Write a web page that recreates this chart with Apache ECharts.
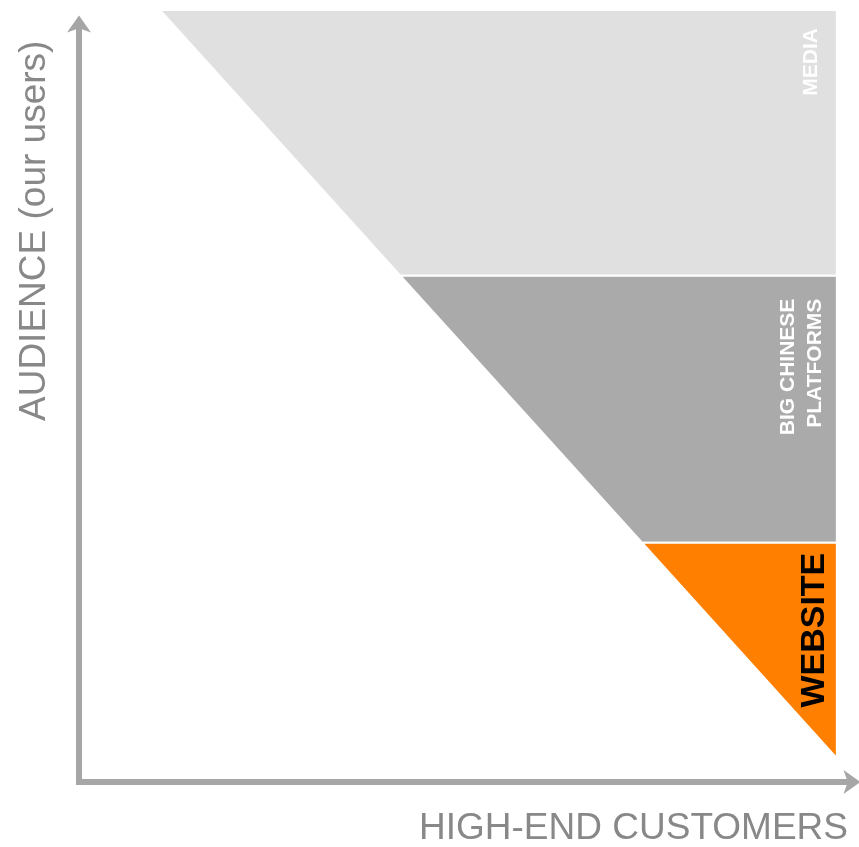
<!DOCTYPE html>
<html><head><meta charset="utf-8">
<script src="https://cdn.jsdelivr.net/npm/echarts@6/dist/echarts.min.js"></script>
<style>html,body{margin:0;padding:0;background:#fff}#c{width:859px;height:847px}</style>
</head><body><div id="c"></div>
<script>
// ---- data (x: high-end customers, y: audience) ----
const bandNames = ['MEDIA', 'BIG CHINESE\nPLATFORMS', 'WEBSITE'];
const bandTop = [100, 65.6, 31.0];
const bandBottom = [65.6, 31.0, 3.1];
const edgeTopX = [10.7, 42.4, 74.3];
const edgeBottomX = [42.4, 74.3, 100];
const bandRightX = [100, 100, 100];
const xTitle = 'HIGH-END CUSTOMERS';
const yTitle = 'AUDIENCE (our users)';

// ---- styles ----
const bandColors = ['#e0e0e0', '#aaaaaa', '#ff8000'];
const labelColors = ['#ffffff', '#ffffff', '#000000'];
const labelFont = ['bold 21px "Liberation Sans", Arial, sans-serif',
                   'bold 21px "Liberation Sans", Arial, sans-serif',
                   'bold 34px "Liberation Sans", Arial, sans-serif'];
const labelDx = [-26, -35, -22];   // px from band right edge
const labelDy = [18, 23, 10];      // px from band top
const axisGray = '#a6a6a6';
const FONT = '"Liberation Sans", Arial, sans-serif';

const chart = echarts.init(document.getElementById('c'), null, {renderer: 'canvas'});
const data = bandNames.map((n, i) => [i]);

chart.setOption({
  animation: false,
  grid: {left: 79, right: 7, top: 24, bottom: 65},
  xAxis: {
    type: 'value', min: 0, max: 102, 
    splitLine: {show: false}, axisTick: {show: false}, axisLabel: {show: false},
    axisLine: {show: true, symbol: ['none', 'arrow'], symbolSize: [18, 17], symbolOffset: [0, 8.5],
      lineStyle: {color: axisGray, width: 6, cap: 'square'}}
  },
  yAxis: {
    type: 'value', min: 0, max: 98.2,
    splitLine: {show: false}, axisTick: {show: false}, axisLabel: {show: false},
    axisLine: {show: true, symbol: ['none', 'arrow'], symbolSize: [18, 17], symbolOffset: [0, 8.5],
      lineStyle: {color: axisGray, width: 6, cap: 'square'}}
  },
  series: [{
    type: 'custom',
    clip: false,
    data: data,
    renderItem: function (params, api) {
      const i = api.value(0);
      const p1 = api.coord([edgeTopX[i], bandTop[i]]);
      const p2 = api.coord([bandRightX[i], bandTop[i]]);
      const p3 = api.coord([bandRightX[i], bandBottom[i]]);
      const p4 = api.coord([edgeBottomX[i], bandBottom[i]]);
      const isMulti = bandNames[i].indexOf('\n') >= 0;
      return {
        type: 'group',
        children: [{
          type: 'polygon',
          shape: {points: [p1, p2, p3, p4]},
          style: {fill: bandColors[i], stroke: '#ffffff', lineWidth: 2}
        }, {
          type: 'text',
          x: p2[0] + labelDx[i],
          y: p2[1] + labelDy[i],
          rotation: Math.PI / 2,
          style: {
            text: bandNames[i],
            fill: labelColors[i],
            font: labelFont[i],
            align: 'right',
            verticalAlign: 'middle',
            lineHeight: isMulti ? 27 : undefined
          }
        }]
      };
    }
  }],
  graphic: [{
    type: 'text', x: 848, y: 829,
    style: {text: xTitle, font: '37px ' + FONT, fill: '#888888', align: 'right', verticalAlign: 'middle'}
  }, {
    type: 'text', x: 35, y: 421, rotation: Math.PI / 2,
    style: {text: yTitle, font: '37px ' + FONT, fill: '#888888', align: 'left', verticalAlign: 'middle'}
  }]
});
</script></body></html>
